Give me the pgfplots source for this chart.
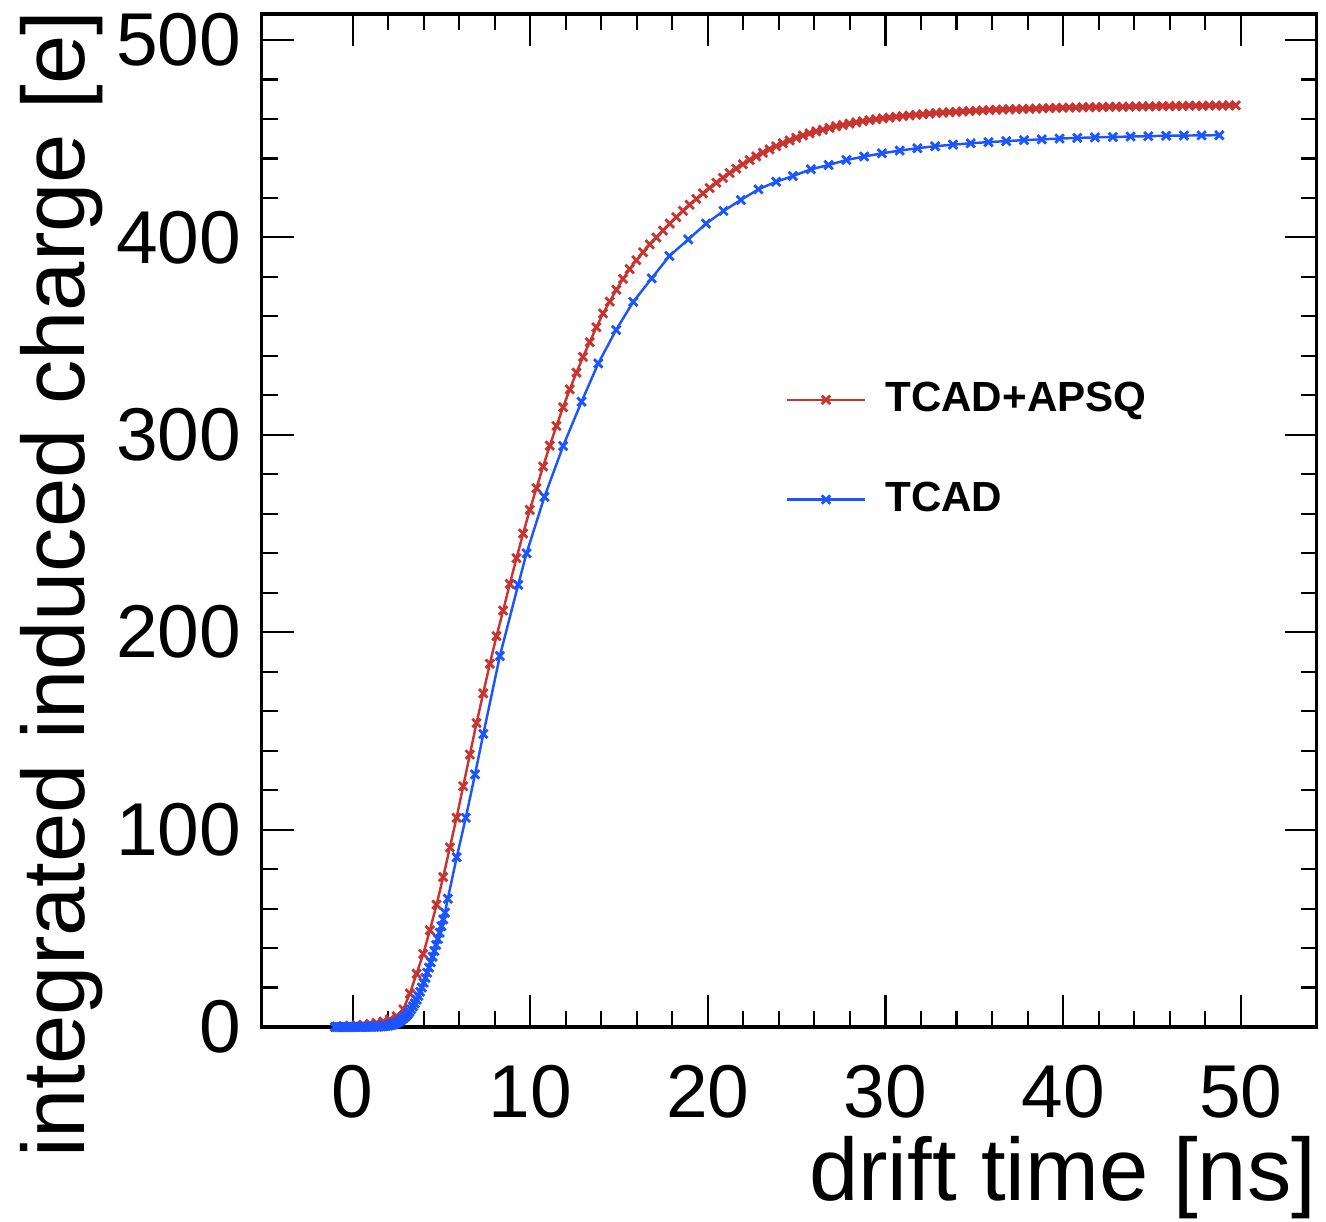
\documentclass[border=0pt]{standalone}
\usepackage{pgfplots}
\pgfplotsset{compat=1.18}
\usepackage{fontspec}
\setmainfont{Liberation Sans}
\definecolor{rootred}{RGB}{200,52,48}
\definecolor{rootblue}{RGB}{28,84,255}

\begin{document}
\begin{tikzpicture}
\begin{axis}[
    name=ax,
    scale only axis,
    width=105.5mm, height=101.3mm,
    xmin=-5.12, xmax=54.28,
    ymin=0, ymax=513.2,
    xtick={0,10,20,30,40,50},
    ytick={0,100,200,300,400,500},
    minor x tick num=4,
    minor y tick num=4,
    tick align=inside,
    xtick pos=both, ytick pos=both,
    major tick length=3.2mm,
    minor tick length=1.6mm,
    every tick/.style={black, line width=0.6pt},
    axis line style={line width=0.9pt},
    /pgf/number format/assume math mode=true,
    ticklabel style={font=\fontsize{21.3}{25}\selectfont},
    xticklabel style={inner sep=0pt, anchor=north, yshift=-3.8mm},
    yticklabel style={inner sep=0pt, anchor=east, xshift=-2mm},
    xlabel={drift time [ns]},
    ylabel={integrated induced charge [e]},
    label style={font=\fontsize{25.2}{30}\selectfont},
    xlabel style={at={(rel axis cs:1,-0.1708)}, anchor=base east, inner sep=0pt},
    ylabel style={at={(rel axis cs:-0.1676,1.004)}, anchor=base east, inner sep=0pt, rotate=0},
    legend style={draw=none, fill=none, at={(axis cs:24.35,336.5)}, anchor=north west,
        font=\fontsize{12}{14}\selectfont\bfseries, row sep=2.7mm, inner sep=0pt,
        nodes={inner sep=1.9mm}},
    legend cell align=left,
    legend image code/.code={\draw[mark repeat=2,mark phase=2,#1] plot coordinates {(0mm,0mm) (3.9mm,0mm) (7.8mm,0mm)};},
    every axis plot/.append style={line width=0.7pt, mark=x, mark size=0.6mm,
        mark options={line width=0.8pt}},
]
\addplot[color=rootred] coordinates {
(-0.9,0.3) (-0.525,0.5) (-0.15,0.7) (0.225,0.9) (0.6,1.2) (0.975,1.6)
(1.35,2.1) (1.725,2.8) (2.1,3.8) (2.475,5.5) (2.85,9.0) (3.225,17)
(3.6,27) (3.975,37) (4.35,49) (4.725,62) (5.1,76) (5.475,91)
(5.85,106) (6.225,122) (6.6,138) (6.975,154) (7.35,169) (7.725,184)
(8.1,198) (8.475,211) (8.85,224.5) (9.225,237.5) (9.6,250) (9.975,262)
(10.35,273) (10.725,284) (11.1,294.5) (11.475,304.5) (11.85,314) (12.225,323)
(12.6,331.5) (12.975,339.5) (13.35,347) (13.725,354.5) (14.1,361.5) (14.475,367.5)
(14.85,373.5) (15.225,379) (15.6,384) (15.975,388.5) (16.35,392.5) (16.725,396.5)
(17.1,400) (17.475,403.5) (17.85,407) (18.225,410.3) (18.6,413.5) (18.975,416.6)
(19.35,419.5) (19.725,422.3) (20.1,425) (20.475,427.7) (20.85,430.2) (21.225,432.6)
(21.6,434.9) (21.975,437.1) (22.35,439.2) (22.725,441.1) (23.1,442.9) (23.475,444.6)
(23.85,446.2) (24.225,447.7) (24.6,449.1) (24.975,450.4) (25.35,451.6) (25.725,452.7)
(26.1,453.7) (26.475,454.6) (26.85,455.5) (27.225,456.3) (27.6,457.0) (27.975,457.7)
(28.35,458.3) (28.725,458.9) (29.1,459.4) (29.475,459.9) (29.85,460.3) (30.225,460.7)
(30.6,461.1) (30.975,461.5) (31.35,461.8) (31.725,462.1) (32.1,462.4) (32.475,462.7)
(32.85,463.0) (33.225,463.2) (33.6,463.4) (33.975,463.6) (34.35,463.8) (34.725,464.0)
(35.1,464.2) (35.475,464.4) (35.85,464.5) (36.225,464.7) (36.6,464.8) (36.975,464.9)
(37.35,465.0) (37.725,465.1) (38.1,465.2) (38.475,465.3) (38.85,465.4) (39.225,465.5)
(39.6,465.6) (39.975,465.7) (40.35,465.8) (40.725,465.8) (41.1,465.9) (41.475,466.0)
(41.85,466.0) (42.225,466.1) (42.6,466.1) (42.975,466.2) (43.35,466.2) (43.725,466.3)
(44.1,466.3) (44.475,466.4) (44.85,466.4) (45.225,466.5) (45.6,466.5) (45.975,466.5)
(46.35,466.6) (46.725,466.6) (47.1,466.7) (47.475,466.7) (47.85,466.7) (48.225,466.8)
(48.6,466.8) (48.975,466.8) (49.35,466.9) (49.725,466.9)
};
\addlegendentry{TCAD+APSQ}
\addplot[color=rootblue] coordinates {
(-1.0,0) (-0.9,0) (-0.8,0) (-0.7,0) (-0.6,0) (-0.5,0) (-0.4,0) (-0.3,0)
(-0.2,0) (-0.1,0) (0.0,0.05) (0.1,0.1) (0.2,0.1) (0.3,0.1) (0.4,0.1) (0.5,0.1)
(0.6,0.1) (0.7,0.15) (0.8,0.15) (0.9,0.15) (1.0,0.2) (1.1,0.2) (1.2,0.2) (1.3,0.25)
(1.4,0.25) (1.5,0.3) (1.6,0.35) (1.7,0.4) (1.8,0.5) (1.9,0.6) (2.0,0.7) (2.1,0.9)
(2.2,1.1) (2.3,1.4) (2.4,1.8) (2.5,2.2) (2.6,2.7) (2.7,3.3) (2.8,4.0) (2.9,4.7)
(3.0,5.5) (3.1,6.5) (3.2,7.7) (3.3,9.0) (3.4,10.5) (3.5,12.0) (3.6,13.8) (3.7,15.7)
(3.8,17.8) (3.9,20.0) (4.0,22.4) (4.1,24.9) (4.2,27.5) (4.3,30.1) (4.4,32.8) (4.5,35.6)
(4.6,38.5) (4.7,41.5) (4.8,44.6) (4.9,47.8) (5.0,51.1) (5.1,54.5) (5.2,58.0)
(5.36,65) (5.86,86) (6.37,106) (6.89,128) (7.36,148.5) (8.29,188) (9.32,224) (9.79,240)
(10.8,268.6) (11.85,294.3) (12.89,316.8) (13.83,336.2) (14.83,353.1) (15.8,367.4)
(16.84,379.3) (17.83,390.6) (18.9,399) (19.9,407) (20.88,413.4) (21.86,419)
(22.85,424.4) (23.84,428.2) (24.79,431.1) (25.8,434.5) (26.8,436.7) (27.8,439.2)
(28.8,441) (29.8,442.6) (30.8,444) (31.8,445.2) (32.8,446.2) (33.8,447)
(34.8,447.7) (35.8,448.3) (36.8,448.8) (37.8,449.3) (38.8,449.7) (39.8,450.1)
(40.8,450.4) (41.8,450.7) (42.8,450.9) (43.8,451.1) (44.8,451.3) (45.8,451.5)
(46.8,451.6) (47.8,451.7) (48.8,451.8)
};
\addlegendentry{TCAD}
\end{axis}
\path ([shift={(-26.17mm,-19.4mm)}]ax.south west) rectangle ([shift={(0.93mm,1.4mm)}]ax.north east);
\end{tikzpicture}
\end{document}
